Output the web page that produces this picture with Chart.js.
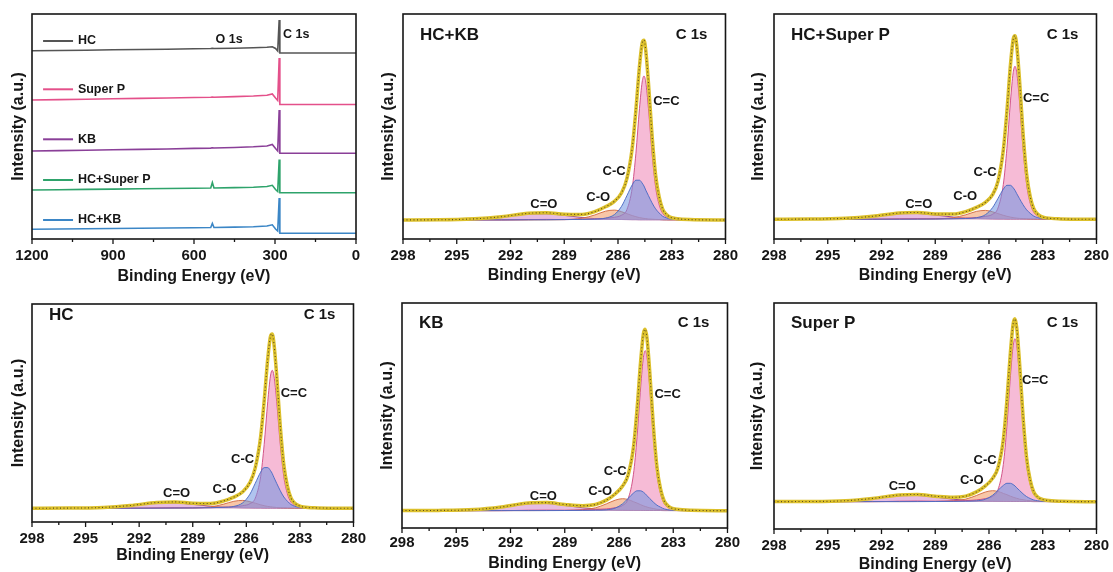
<!DOCTYPE html>
<html>
<head>
<meta charset="utf-8">
<title>XPS survey and C 1s fits</title>
<script src="https://cdn.jsdelivr.net/npm/chart.js@4.4.1/dist/chart.umd.min.js"></script>
<style>
  html, body { margin: 0; padding: 0; background: #fff; }
  #fig { position: relative; width: 1113px; height: 572px; overflow: hidden; background: #fff; }
  #fig canvas { position: absolute; }
</style>
</head>
<body>
<div id="fig"></div>
<script>
// ── Survey spectra (stacked with offsets, a.u.) ─────────────────────
const SURVEY_BE    = [1200, 1100, 1000, 900, 800, 700, 600, 538, 532, 526, 450, 380, 330, 310, 298, 290, 284.5, 282, 270, 200, 100, 0];
const SURVEY_HC    = [188.3, 188.5, 188.8, 189.2, 189.5, 189.8, 190.3, 190.5, 190.8, 190.5, 190.8, 191.2, 191.7, 192.2, 190.5, 188, 219, 186, 186, 186, 186, 186];
const SURVEY_SP    = [139, 139.4, 139.8, 140.2, 140.6, 141, 141.5, 141.8, 142, 141.8, 142.4, 143, 143.8, 145, 141, 138.5, 181, 134.5, 134.5, 134.5, 134.5, 134.5];
const SURVEY_KB    = [88, 88.4, 88.8, 89.2, 89.6, 90, 90.6, 90.9, 91.2, 91, 91.5, 92.2, 93, 94.5, 90.5, 88, 129, 85.7, 85.7, 85.7, 85.7, 85.7];
const SURVEY_HCSP  = [49, 49.3, 49.6, 49.9, 50.2, 50.5, 50.8, 51, 56.5, 51, 51.4, 51.8, 52.5, 53.7, 49.5, 47.5, 79.5, 46.3, 46.3, 46.3, 46.3, 46.3];
const SURVEY_HCKB  = [9.7, 10, 10.3, 10.5, 10.8, 11, 11.3, 11.5, 15.5, 11.5, 11.9, 12.3, 13, 14.2, 10, 8, 41, 5.7, 5.7, 5.7, 5.7, 5.7];
const SURVEY_NAMES = ['HC', 'Super P', 'KB', 'HC+Super P', 'HC+KB'];
const SURVEY_TICKS = [1200, 900, 600, 300, 0];
const SURVEY_MINOR = [1050, 750, 450, 150];

// ── C 1s high-resolution fits (baseline-subtracted, a.u.) ───────────
const C1S_BE    = [298, 296, 294, 292.5, 291, 290, 289, 288, 287.3, 286.7, 286.2, 285.8, 285.5, 285.2, 285.0, 284.8, 284.65, 284.55, 284.45, 284.3, 284.1, 283.9, 283.7, 283.5, 283.3, 283.1, 282.8, 282, 280];
const C1S_TICKS = [298, 295, 292, 289, 286, 283, 280];
const C1S_MINOR = [296.5, 293.5, 290.5, 287.5, 284.5, 281.5];
const COMPONENTS = ['C=C', 'C-C', 'C-O', 'C=O'];

const HCKB_ENV  = [0.1, 0.2, 1.2, 3.3, 6.7, 7.2, 5.8, 5.6, 8.4, 13.2, 18.6, 27.3, 41.6, 72.8, 110.1, 153.9, 177.0, 179.8, 169.5, 137.1, 84.8, 44.7, 22.8, 10.6, 5.6, 2.9, 1.6, 0.4, 0];
const HCKB_CEQC = [0, 0, 0, 0, 0.4, 0.6, 0.4, 0.7, 1.0, 1.6, 2.7, 4.8, 10.5, 32.8, 66.7, 111.5, 138.0, 144, 138.0, 111.5, 66.7, 32.8, 15.1, 6.5, 3.2, 1.7, 0.9, 0.3, 0];
const HCKB_CC   = [0, 0, 0.1, 0.1, 0.2, 0.2, 0.4, 0.6, 1.0, 1.9, 5.4, 13.7, 24.4, 35.3, 39.8, 39.8, 36.9, 34.0, 29.9, 24.4, 17.1, 11.1, 7.0, 3.7, 2.1, 1.0, 0.5, 0.1, 0];
const HCKB_CO   = [0, 0, 0.1, 0.1, 0.1, 0.2, 0.4, 1.8, 5.0, 8.8, 9.9, 8.3, 6.3, 4.4, 3.3, 2.4, 1.9, 1.6, 1.4, 1.0, 0.8, 0.6, 0.5, 0.3, 0.2, 0.1, 0.1, 0, 0];
const HCKB_CEQO = [0.1, 0.2, 1.0, 3.1, 6.0, 6.2, 4.6, 2.5, 1.4, 0.9, 0.6, 0.5, 0.4, 0.3, 0.3, 0.2, 0.2, 0.2, 0.2, 0.2, 0.2, 0.2, 0.2, 0.1, 0.1, 0.1, 0.1, 0, 0];

const HCSP_ENV  = [0.1, 0.2, 1.0, 3.0, 6.3, 6.8, 5.4, 5.2, 7.7, 12.0, 17.0, 24.6, 38.0, 69.3, 108.0, 154.8, 180.0, 183.6, 173.6, 140.3, 86.3, 45.1, 22.6, 10.5, 5.5, 2.9, 1.4, 0.4, 0];
const HCSP_CEQC = [0, 0, 0, 0, 0.5, 0.6, 0.5, 0.8, 1.1, 1.7, 2.9, 5.0, 11.2, 34.9, 70.8, 118.4, 146.6, 153, 146.6, 118.4, 70.8, 34.9, 16.1, 6.9, 3.4, 1.8, 0.9, 0.3, 0];
const HCSP_CC   = [0, 0, 0.1, 0.1, 0.1, 0.2, 0.3, 0.5, 0.8, 1.6, 4.6, 11.7, 20.8, 30.1, 34.0, 34.0, 31.5, 29.0, 25.6, 20.8, 14.6, 9.5, 6.0, 3.2, 1.8, 0.9, 0.4, 0.1, 0];
const HCSP_CO   = [0, 0, 0, 0.1, 0.1, 0.2, 0.4, 1.6, 4.5, 7.9, 8.9, 7.5, 5.7, 4.0, 3.0, 2.2, 1.7, 1.4, 1.2, 0.9, 0.7, 0.5, 0.4, 0.3, 0.2, 0.1, 0.1, 0, 0];
const HCSP_CEQO = [0.1, 0.2, 0.9, 2.8, 5.6, 5.8, 4.2, 2.3, 1.3, 0.8, 0.6, 0.4, 0.3, 0.3, 0.2, 0.2, 0.2, 0.2, 0.2, 0.2, 0.2, 0.2, 0.1, 0.1, 0.1, 0.1, 0, 0, 0];

const HC_ENV  = [0.1, 0.2, 0.9, 2.8, 5.8, 6.4, 5.0, 4.8, 7.2, 11.2, 16.5, 25.7, 40.5, 71.4, 107.4, 149.6, 171.7, 174.3, 164.2, 132.8, 82.2, 43.4, 22.1, 10.3, 5.4, 3.0, 1.3, 0.4, 0];
const HC_CEQC = [0, 0, 0, 0, 0.4, 0.6, 0.4, 0.7, 1.0, 1.5, 2.6, 4.6, 10.1, 31.5, 63.9, 106.8, 132.2, 138, 132.2, 106.8, 63.9, 31.5, 14.5, 6.2, 3.0, 1.7, 0.8, 0.3, 0];
const HC_CC   = [0, 0, 0.1, 0.1, 0.2, 0.3, 0.4, 0.6, 1.0, 1.9, 5.5, 14.1, 25.0, 36.1, 40.7, 40.7, 37.8, 34.8, 30.7, 25.0, 17.6, 11.3, 7.1, 3.8, 2.1, 1.1, 0.5, 0.1, 0];
const HC_CO   = [0, 0, 0, 0.1, 0.1, 0.2, 0.3, 1.4, 4.0, 7.0, 7.9, 6.6, 5.1, 3.5, 2.6, 1.9, 1.5, 1.3, 1.1, 0.8, 0.6, 0.5, 0.4, 0.2, 0.2, 0.1, 0, 0, 0];
const HC_CEQO = [0.1, 0.2, 0.8, 2.6, 5.1, 5.3, 3.9, 2.1, 1.2, 0.8, 0.5, 0.4, 0.3, 0.3, 0.2, 0.2, 0.2, 0.2, 0.2, 0.2, 0.1, 0.1, 0.1, 0.1, 0.1, 0.1, 0, 0, 0];

const KB_ENV  = [0.2, 0.3, 1.1, 3.7, 7.7, 8.1, 6.2, 5.0, 6.2, 10.6, 17.0, 24.7, 35.5, 63.4, 101.9, 150.0, 176.9, 181.4, 172.2, 139.1, 85.1, 43.6, 21.6, 9.7, 5.0, 2.7, 1.4, 0.4, 0];
const KB_CEQC = [0, 0, 0, 0, 0.5, 0.6, 0.4, 0.8, 1.1, 1.8, 3.0, 5.3, 11.7, 36.5, 74.1, 123.8, 153.3, 160, 153.3, 123.8, 74.1, 36.5, 16.8, 7.2, 3.5, 1.9, 1.0, 0.3, 0];
const KB_CC   = [0, 0, 0, 0.1, 0.1, 0.1, 0.2, 0.3, 0.5, 0.9, 2.7, 6.9, 12.2, 17.6, 19.9, 19.9, 18.5, 17.0, 15.0, 12.2, 8.6, 5.5, 3.5, 1.8, 1.0, 0.5, 0.2, 0.1, 0];
const KB_CO   = [0, 0, 0, 0.1, 0.1, 0.2, 0.3, 1.0, 2.9, 6.8, 10.6, 12, 11.2, 9.0, 7.6, 6.0, 4.9, 4.2, 3.7, 2.9, 2.2, 1.4, 1.1, 0.6, 0.4, 0.2, 0.1, 0, 0];
const KB_CEQO = [0.2, 0.3, 1.1, 3.5, 7.0, 7.2, 5.3, 2.9, 1.7, 1.1, 0.7, 0.5, 0.4, 0.3, 0.3, 0.3, 0.2, 0.2, 0.2, 0.2, 0.2, 0.2, 0.2, 0.1, 0.1, 0.1, 0.1, 0, 0];

const SP_ENV  = [0.1, 0.2, 1.0, 3.3, 6.7, 7.2, 5.5, 4.4, 5.6, 9.8, 15.9, 23.3, 33.9, 62.1, 101.2, 150.3, 178.0, 182.9, 173.7, 140.3, 85.6, 43.8, 21.5, 9.7, 5.0, 2.8, 1.4, 0.4, 0];
const SP_CEQC = [0, 0, 0, 0, 0.5, 0.7, 0.4, 0.7, 1.1, 1.8, 3.1, 5.4, 11.9, 37.2, 75.5, 126.2, 156.2, 163, 156.2, 126.2, 75.5, 37.2, 17.1, 7.3, 3.6, 2.0, 1.0, 0.3, 0];
const SP_CC   = [0, 0, 0, 0.1, 0.1, 0.1, 0.2, 0.3, 0.5, 0.9, 2.5, 6.4, 11.3, 16.3, 18.4, 18.4, 17.1, 15.8, 13.9, 11.3, 7.9, 5.1, 3.2, 1.7, 1.0, 0.5, 0.2, 0.1, 0];
const SP_CO   = [0, 0, 0, 0.1, 0.1, 0.2, 0.3, 0.9, 2.6, 6.2, 9.7, 11, 10.3, 8.3, 7.0, 5.5, 4.5, 3.9, 3.4, 2.6, 2.0, 1.3, 1.0, 0.6, 0.3, 0.2, 0.1, 0, 0];
const SP_CEQO = [0.1, 0.2, 1.0, 3.1, 6.0, 6.2, 4.6, 2.5, 1.4, 0.9, 0.6, 0.5, 0.4, 0.3, 0.3, 0.2, 0.2, 0.2, 0.2, 0.2, 0.2, 0.2, 0.2, 0.1, 0.1, 0.1, 0.1, 0, 0];

// ── Styling ─────────────────────────────────────────────────────────
const FONT = '"Liberation Sans", Arial, Helvetica, sans-serif';
const INK  = '#161616';
const SURVEY_COLORS = ['#555555', '#e4508a', '#8a3f98', '#2ea36b', '#3b86c6'];
const COMP_STYLE = {
  'C=C': { fill: 'rgba(240,138,184,0.58)', line: 'rgba(208,78,132,0.95)', order: 4 },
  'C-C': { fill: 'rgba(112,148,226,0.55)', line: 'rgba(76,108,196,0.95)', order: 3 },
  'C-O': { fill: 'rgba(244,160,108,0.6)',  line: 'rgba(210,110,70,0.95)', order: 5 },
  'C=O': { fill: 'rgba(200,106,190,0.45)', line: 'rgba(150,62,142,0.95)', order: 6 },
};
const ENV_COLOR = '#dcc02c';
const RAW_COLOR = '#5c4c1c';

const PAD_TOP = 6, PAD_RIGHT = 18, PAD_BOTTOM = 50;

const pts = (xs, ys) => xs.map((x, i) => ({ x, y: ys[i] }));

// Frame, outward tick marks and in-plot annotations
const decor = {
  id: 'decor',
  afterDatasetsDraw(chart, _args, o) {
    const { ctx, chartArea: a, scales: { x, y } } = chart;
    ctx.save();
    ctx.strokeStyle = INK;
    ctx.lineWidth = 1.6;
    ctx.strokeRect(a.left, a.top, a.right - a.left, a.bottom - a.top);

    ctx.lineWidth = 1.3;
    ctx.beginPath();
    o.major.forEach(v => { const p = x.getPixelForValue(v); ctx.moveTo(p, a.bottom); ctx.lineTo(p, a.bottom + 5); });
    o.minor.forEach(v => { const p = x.getPixelForValue(v); ctx.moveTo(p, a.bottom); ctx.lineTo(p, a.bottom + 3); });
    ctx.stroke();

    (o.texts || []).forEach(t => {
      let px, py;
      if (t.area) {
        px = t.fromRight ? a.right - t.dx : a.left + t.dx;
        py = a.top + t.dy;
      } else {
        px = x.getPixelForValue(t.x);
        py = y.getPixelForValue(t.y);
      }
      if (t.seg) {
        ctx.strokeStyle = t.seg.color;
        ctx.lineWidth = 2;
        ctx.beginPath();
        ctx.moveTo(x.getPixelForValue(t.seg.from), py);
        ctx.lineTo(x.getPixelForValue(t.seg.to), py);
        ctx.stroke();
      }
      ctx.font = `bold ${t.size}px ${FONT}`;
      ctx.fillStyle = INK;
      ctx.textAlign = t.align || 'center';
      ctx.textBaseline = 'middle';
      ctx.fillText(t.text, px, py);
    });
    ctx.restore();
  }
};

function makePanel(p) {
  const fig = document.getElementById('fig');
  const [L, T, R, B] = p.box;
  const w = R - L + p.axisW + PAD_RIGHT;
  const h = B - T + PAD_TOP + PAD_BOTTOM;
  const canvas = document.createElement('canvas');
  canvas.width = w; canvas.height = h;
  canvas.style.left = (L - p.axisW) + 'px';
  canvas.style.top = (T - PAD_TOP) + 'px';
  canvas.style.width = w + 'px';
  canvas.style.height = h + 'px';
  fig.appendChild(canvas);

  new Chart(canvas, {
    type: 'line',
    data: { datasets: p.datasets },
    plugins: [decor],
    options: {
      responsive: false,
      animation: false,
      devicePixelRatio: 1,
      layout: { autoPadding: false, padding: { top: PAD_TOP, right: PAD_RIGHT, left: 0, bottom: 0 } },
      elements: { point: { radius: 0 } },
      plugins: {
        legend: { display: false },
        tooltip: { enabled: false },
        decor: { major: p.ticks, minor: p.minor, texts: p.texts },
      },
      scales: {
        x: {
          type: 'linear',
          reverse: true,
          min: p.xMin, max: p.xMax,
          afterBuildTicks: s => { s.ticks = p.ticks.map(v => ({ value: v })); },
          afterFit: s => { s.height = PAD_BOTTOM; },
          grid: { display: false, drawTicks: false },
          border: { display: false },
          ticks: {
            autoSkip: false, maxRotation: 0, padding: p.tickPad,
            color: INK, font: { family: FONT, size: 15, weight: 'bold' },
            callback: v => String(v),
          },
          title: {
            display: true, text: 'Binding Energy (eV)', color: INK,
            font: { family: FONT, size: 16, weight: 'bold' },
            padding: { top: 0, bottom: p.xTitlePad },
          },
        },
        y: {
          min: p.yMin, max: p.yMax,
          afterFit: s => { s.width = p.axisW; },
          grid: { display: false, drawTicks: false },
          border: { display: false },
          ticks: { display: false },
          title: {
            display: true, text: 'Intensity (a.u.)', color: INK,
            font: { family: FONT, size: 16, weight: 'bold' },
            padding: { top: p.yTitlePad, bottom: 0 },
          },
        },
      },
    },
  });
}

// ── Survey panel ────────────────────────────────────────────────────
const SURVEY_SERIES = [SURVEY_HC, SURVEY_SP, SURVEY_KB, SURVEY_HCSP, SURVEY_HCKB];
const SURVEY_LABEL_Y = [198, 149.7, 99.7, 59, 19];

makePanel({
  box: [32, 14, 356, 239], axisW: 32,
  xMin: 0, xMax: 1200, yMin: 0, yMax: 225,
  ticks: SURVEY_TICKS, minor: SURVEY_MINOR,
  tickPad: 8, xTitlePad: 2.4, yTitlePad: 9.4,
  datasets: SURVEY_SERIES.map((s, i) => ({
    label: SURVEY_NAMES[i],
    data: pts(SURVEY_BE, s),
    borderColor: SURVEY_COLORS[i],
    borderWidth: 1.6,
    tension: 0,
    fill: false,
  })),
  texts: [
    ...SURVEY_NAMES.map((n, i) => ({
      text: n, x: 1030, y: SURVEY_LABEL_Y[i], size: 12.5, align: 'left',
      seg: { from: 1159, to: 1048, color: SURVEY_COLORS[i] },
    })),
    { text: 'O 1s', x: 470, y: 199, size: 12.5 },
    { text: 'C 1s', x: 270, y: 204, size: 12.5, align: 'left' },
  ],
});

// ── C 1s panels ─────────────────────────────────────────────────────
function c1sDatasets(env, ceqc, cc, co, ceqo) {
  const comps = [ceqc, cc, co, ceqo].map((d, i) => {
    const st = COMP_STYLE[COMPONENTS[i]];
    return {
      label: COMPONENTS[i],
      data: pts(C1S_BE, d),
      borderColor: st.line,
      backgroundColor: st.fill,
      borderWidth: 1,
      fill: 'origin',
      cubicInterpolationMode: 'monotone',
      order: st.order,
    };
  });
  return [
    { label: 'Measured', data: pts(C1S_BE, env), borderColor: RAW_COLOR, borderWidth: 1.1,
      borderDash: [1, 2.5], fill: false, cubicInterpolationMode: 'monotone', order: 1 },
    { label: 'Envelope', data: pts(C1S_BE, env), borderColor: ENV_COLOR, borderWidth: 3.5,
      fill: false, cubicInterpolationMode: 'monotone', order: 2 },
    ...comps,
  ];
}

function c1sTexts(name, titleDy, pos) {
  return [
    { text: name, area: true, dx: 17, dy: titleDy, size: 17, align: 'left' },
    { text: 'C 1s', area: true, fromRight: true, dx: 34, dy: titleDy, size: 15 },
    ...COMPONENTS.map((c, i) => ({ text: c, x: pos[i][0], y: pos[i][1], size: 13 })),
  ];
}

const C1S_PANELS = [
  { name: 'HC+KB', box: [403, 14, 728, 239], yMin: -19, yMax: 206, yTitlePad: 15.7, xTitlePad: 3.4, tickPad: 8, titleDy: 21,
    series: [HCKB_ENV, HCKB_CEQC, HCKB_CC, HCKB_CO, HCKB_CEQO],
    labels: [[283.3, 118.3], [286.22, 48.3], [287.1, 22.3], [290.14, 16]] },
  { name: 'HC+Super P', box: [774, 14, 1099, 239], yMin: -19.7, yMax: 205.3, yTitlePad: 14.7, xTitlePad: 3.4, tickPad: 8, titleDy: 21,
    series: [HCSP_ENV, HCSP_CEQC, HCSP_CC, HCSP_CO, HCSP_CEQO],
    labels: [[283.37, 121], [286.22, 46.6], [287.33, 22.6], [289.92, 15.3]] },
  { name: 'HC', box: [32, 304, 356, 522], yMin: -13.7, yMax: 204.3, yTitlePad: 9.4, xTitlePad: 7, tickPad: 8, titleDy: 11, axisW: 32,
    series: [HC_ENV, HC_CEQC, HC_CC, HC_CO, HC_CEQO],
    labels: [[283.34, 115], [286.21, 49], [287.22, 19], [289.9, 15]] },
  { name: 'KB', box: [402, 303, 728, 528], yMin: -17.3, yMax: 207.7, yTitlePad: 16.4, xTitlePad: 5.1, tickPad: 6, titleDy: 20.3,
    series: [KB_ENV, KB_CEQC, KB_CC, KB_CO, KB_CEQO],
    labels: [[283.31, 116.4], [286.21, 39.7], [287.04, 19.7], [290.18, 14]] },
  { name: 'Super P', box: [774, 303, 1099, 529], yMin: -27.3, yMax: 198.7, yTitlePad: 14.4, xTitlePad: 4.4, tickPad: 8, titleDy: 20.3,
    series: [SP_ENV, SP_CEQC, SP_CC, SP_CO, SP_CEQO],
    labels: [[283.42, 121.7], [286.22, 41.7], [286.96, 21.7], [290.84, 15.7]] },
];

C1S_PANELS.forEach(p => makePanel({
  box: p.box, axisW: p.axisW || 40,
  xMin: 280, xMax: 298, yMin: p.yMin, yMax: p.yMax,
  ticks: C1S_TICKS, minor: C1S_MINOR,
  tickPad: p.tickPad, xTitlePad: p.xTitlePad, yTitlePad: p.yTitlePad,
  datasets: c1sDatasets(...p.series),
  texts: c1sTexts(p.name, p.titleDy, p.labels),
}));
</script>
</body>
</html>
